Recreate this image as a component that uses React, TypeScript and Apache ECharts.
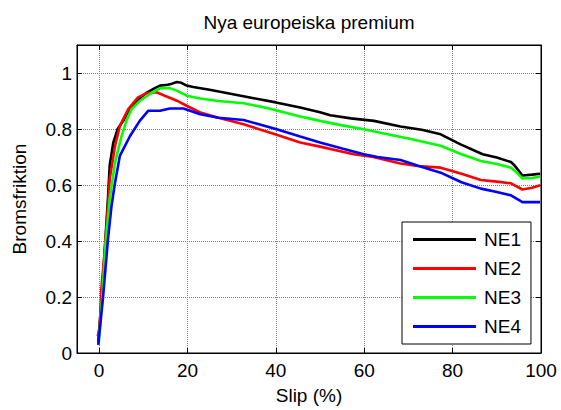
import React, { useEffect, useRef } from "react";
import * as echarts from "echarts";

const titleText = "Nya europeiska premium";
const xName = "Slip (%)";
const yName = "Bromsfriktion";
const seriesNames = ["NE1", "NE2", "NE3", "NE4"];
const seriesColors = ["#000000", "#ff0000", "#00ff00", "#0000ff"];

const ne1: [number, number][] = [
  [-0.2, 0.04], [0.6, 0.2], [1.4, 0.4], [2.0, 0.55], [2.4, 0.67], [3.2, 0.75], [4.2, 0.8],
  [5.5, 0.83], [6.5, 0.86], [7.7, 0.885], [9.2, 0.91], [10.8, 0.93], [12.5, 0.945],
  [13.8, 0.955], [15.5, 0.958], [16.5, 0.962], [17.6, 0.968], [18.6, 0.965], [19.8, 0.955],
  [21.3, 0.95], [25, 0.94], [30, 0.925], [35, 0.91], [40, 0.895], [45.5, 0.877], [50, 0.86],
  [52.3, 0.849], [57, 0.838], [62.2, 0.829], [68.2, 0.809], [73, 0.797], [77.3, 0.781],
  [81.8, 0.745], [86.8, 0.71], [90, 0.698], [93.2, 0.682], [94, 0.67], [95.8, 0.634],
  [98, 0.637], [99.8, 0.64],
];

const ne2: [number, number][] = [
  [-0.3, 0.06], [0.16, 0.094], [0.5, 0.226], [1.3, 0.37], [2.0, 0.524], [2.4, 0.62],
  [3.6, 0.739], [4.7, 0.811], [6.6, 0.871], [8.8, 0.913], [10.8, 0.928], [13, 0.931],
  [15, 0.918], [16.4, 0.909], [17.6, 0.901], [19.8, 0.883], [22.9, 0.859], [27, 0.84],
  [32.7, 0.817], [40, 0.78], [45.5, 0.752], [50, 0.737], [57.6, 0.71], [62, 0.7],
  [68.2, 0.677], [72, 0.668], [77.3, 0.662], [82, 0.64], [86.4, 0.618], [90, 0.612],
  [93.2, 0.606], [95.8, 0.584], [98, 0.59], [99.8, 0.599],
];

const ne3: [number, number][] = [
  [-0.1, 0.03], [0.7, 0.2], [1.5, 0.4], [2.4, 0.55], [3.6, 0.68], [5.0, 0.77], [6.2, 0.83],
  [7.3, 0.87], [9.2, 0.9], [11.5, 0.925], [13.8, 0.946], [16, 0.946], [17.6, 0.937],
  [19.8, 0.919], [22.9, 0.909], [27, 0.9], [32.7, 0.892], [38, 0.875], [45.5, 0.845],
  [50, 0.829], [55, 0.813], [59.9, 0.799], [65, 0.782], [70, 0.766], [77.3, 0.74],
  [82, 0.71], [86.4, 0.686], [90, 0.675], [93.2, 0.662], [94.5, 0.645], [95.8, 0.623],
  [98, 0.625], [99.8, 0.63],
];

const ne4: [number, number][] = [
  [-0.2, 0.029], [0.9, 0.2], [2.0, 0.405], [2.8, 0.524], [3.6, 0.608], [4.7, 0.704],
  [7, 0.775], [9.2, 0.829], [11.1, 0.865], [13.8, 0.865], [16, 0.873], [19.1, 0.873],
  [22.9, 0.853], [27, 0.84], [32.7, 0.832], [40, 0.8], [45.5, 0.773], [50, 0.752],
  [55, 0.73], [59.9, 0.71], [63, 0.7], [68.2, 0.689], [72, 0.67], [77.3, 0.644],
  [82, 0.61], [86.4, 0.587], [90, 0.575], [93.2, 0.563], [95.8, 0.539], [99.8, 0.539],
];

const allData = [ne1, ne2, ne3, ne4];

const FONT = "'Liberation Sans', Arial, sans-serif";

export default function App() {
  const ref = useRef<HTMLDivElement>(null);
  useEffect(() => {
    if (!ref.current) return;
    const chart = echarts.init(ref.current, null, { renderer: "svg" });
    const gridLine = { show: true, lineStyle: { color: "#808080", type: "dotted", width: 1 } };
    const axisLine = { show: true, onZero: false, lineStyle: { color: "#000", width: 1 } };
    const tick = { show: true, inside: true, length: 5, lineStyle: { color: "#000" } };
    chart.setOption({
      animation: false,
      backgroundColor: "#fff",
      textStyle: { fontFamily: FONT },
      graphic: [
        {
          type: "text",
          x: 309,
          y: 22,
          style: {
            text: titleText,
            fontSize: 19,
            fontFamily: FONT,
            fill: "#000",
            textAlign: "center",
            textVerticalAlign: "middle",
          },
        },
      ],
      grid: {
        left: 77,
        top: 45,
        right: 20,
        bottom: 57,
        show: true,
        borderColor: "#000",
        borderWidth: 1,
        backgroundColor: "#fff",
      },
      legend: {
        data: seriesNames,
        orient: "vertical",
        left: 402,
        top: 222,
        width: 130,
        backgroundColor: "#fff",
        borderColor: "#000",
        borderWidth: 1,
        borderRadius: 0,
        padding: [8, 10, 8, 11],
        itemWidth: 63,
        itemHeight: 18,
        itemGap: 10,
        icon: "path://M0,0M0,7.6H63V10.4H0ZM63,18",
        textStyle: { fontSize: 19, fontFamily: FONT, color: "#000", padding: [0, 0, 0, 3] },
      },
      xAxis: [
        {
          type: "value",
          min: -5,
          max: 100,
          splitNumber: 5,
          position: "bottom",
          name: xName,
          nameLocation: "middle",
          nameGap: 33,
          nameTextStyle: { fontSize: 19, fontFamily: FONT, color: "#000" },
          axisLine,
          axisTick: tick,
          axisLabel: {
            margin: 8,
            fontSize: 19,
            fontFamily: FONT,
            color: "#000",
            formatter: (v: number) => (v < 0 ? "" : String(v)),
          },
          splitLine: gridLine,
        },
        {
          type: "value",
          min: -5,
          max: 100,
          splitNumber: 5,
          position: "top",
          axisLine,
          axisTick: tick,
          axisLabel: { show: false },
          splitLine: { show: false },
        },
      ],
      yAxis: [
        {
          type: "value",
          min: 0,
          max: 1.1,
          interval: 0.2,
          position: "left",
          name: yName,
          nameLocation: "middle",
          nameGap: 48,
          nameTextStyle: { fontSize: 19, fontFamily: FONT, color: "#000" },
          axisLine,
          axisTick: tick,
          axisLabel: {
            margin: 5,
            fontSize: 19,
            fontFamily: FONT,
            color: "#000",
            formatter: (v: number) => (v > 1.05 ? "" : String(Math.round(v * 10) / 10)),
          },
          splitLine: gridLine,
        },
        {
          type: "value",
          min: 0,
          max: 1.1,
          interval: 0.2,
          position: "right",
          axisLine,
          axisTick: tick,
          axisLabel: { show: false },
          splitLine: { show: false },
        },
      ],
      series: allData.map((d, i) => ({
        name: seriesNames[i],
        type: "line",
        xAxisIndex: 0,
        yAxisIndex: 0,
        data: d,
        symbol: "none",
        showSymbol: false,
        color: seriesColors[i],
        lineStyle: { color: seriesColors[i], width: 2.6 },
        itemStyle: { color: seriesColors[i] },
      })),
    });
    return () => chart.dispose();
  }, []);
  return <div ref={ref} style={{ width: 561, height: 410, position: "absolute", left: 0, top: 0 }} />;
}
